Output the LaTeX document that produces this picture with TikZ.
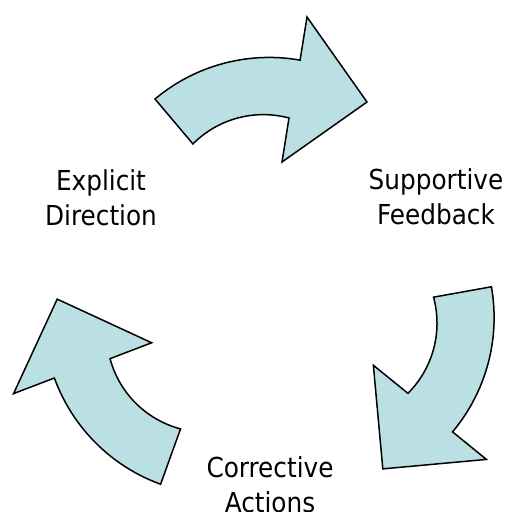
\documentclass[tikz,border=0pt]{standalone}
\usepackage{fontspec}
\newfontfamily\lab{DejaVu Sans Condensed}
\definecolor{arrowfill}{RGB}{187,224,227}
\begin{document}
\begin{tikzpicture}[x=1pt,y=-1pt,
  cyc/.style={fill=arrowfill, draw=black, line width=1.5pt, line join=miter},
  lbl/.style={font=\lab\fontsize{27.5}{35.5}\selectfont, align=center, inner sep=0pt, anchor=north}]
\useasboundingbox (0,0) rectangle (507,512);
\foreach \a in {0,-120,-240}{
  \begin{scope}[rotate around={\a:(269,290)}]
    \path[cyc] (155,99) arc[start angle=-130, end angle=-80, radius=177.7]
      -- (307,17) -- (367,102) -- (282,162) -- (289,118)
      arc[start angle=-75, end angle=-135.2, radius=99.2] -- cycle;
  \end{scope}
}
\node[lbl] (ed) at (101,169) {Explicit\\Direction};
\node[lbl] (sf) at (436,168) {Supportive\\Feedback};
\node[lbl] (ca) at (270,456) {Corrective\\Actions};
\end{tikzpicture}
\end{document}
